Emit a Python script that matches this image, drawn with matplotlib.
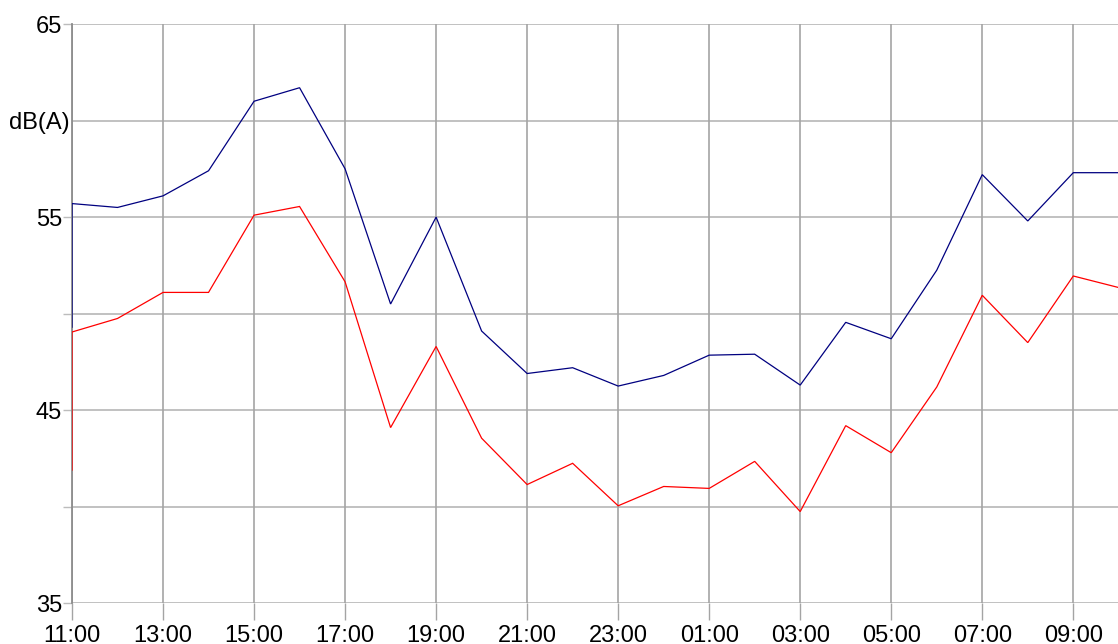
import matplotlib
matplotlib.use("Agg")
import matplotlib.pyplot as plt
from matplotlib.transforms import blended_transform_factory, offset_copy

plt.rcParams['font.family'] = ['Liberation Sans', 'DejaVu Sans']

# Hours since midnight of the first day (11:00 on day 1 to 10:00 on day 2).
# The first reading appears twice at 11:00 (partial hour, then full hour).
hours = [11, 11, 12, 13, 14, 15, 16, 17, 18, 19, 20, 21, 22, 23,
         24, 25, 26, 27, 28, 29, 30, 31, 32, 33, 34]

# Upper curve (navy) and lower curve (red), dB(A)
level_upper = [49.3, 55.7, 55.5, 56.1, 57.4, 61.0, 61.7, 57.5, 50.5, 55.0,
               49.1, 46.9, 47.2, 46.25, 46.8, 47.85, 47.9, 46.3, 49.55, 48.7,
               52.25, 57.2, 54.8, 57.3, 57.3]
level_lower = [41.9, 49.05, 49.75, 51.1, 51.1, 55.1, 55.55, 51.65, 44.1, 48.3,
               43.55, 41.15, 42.25, 40.05, 41.05, 40.95, 42.35, 39.75, 44.2, 42.8,
               46.2, 50.95, 48.5, 51.95, 51.35]

x_ticks = [11, 13, 15, 17, 19, 21, 23, 25, 27, 29, 31, 33]
x_tick_labels = ['11:00', '13:00', '15:00', '17:00', '19:00', '21:00',
                 '23:00', '01:00', '03:00', '05:00', '07:00', '09:00']
y_ticks = [35, 40, 45, 50, 55, 65]
y_tick_labels = ['35', '', '45', '', '55', '65']
unit_level = 60
unit_label = 'dB(A)'

W, H = 1118, 644
fig = plt.figure(figsize=(W / 100, H / 100), dpi=100)
left_px, right_px = 72, 1118.8
top_px, bottom_px = 24, 603.3
ax = fig.add_axes([left_px / W, (H - bottom_px) / H,
                   (right_px - left_px) / W, (bottom_px - top_px) / H])

ax.set_xlim(11, 34)
ax.set_ylim(35, 65)

hgrid = '#bcbcbc'
vgrid = '#a4a4a4'

for y in y_ticks + [unit_level]:
    ax.axhline(y, color=hgrid, lw=1.3, zorder=1)
for x in x_ticks:
    ax.axvline(x, color=vgrid, lw=1.2, zorder=1)

ax.plot(hours, level_upper, color='#000080', lw=0.9, zorder=3,
        solid_joinstyle='miter')
ax.plot(hours, level_lower, color='#ff0000', lw=0.9, zorder=3,
        solid_joinstyle='miter')

ax.set_xticks(x_ticks)
ax.set_xticklabels(x_tick_labels)
ax.set_yticks(y_ticks)
ax.set_yticklabels(y_tick_labels)

ax.tick_params(axis='y', length=6.5, width=1.0, color=hgrid, pad=0.8,
               labelsize=17, labelcolor='black')
ax.tick_params(axis='x', length=12.5, width=1.0, color=vgrid, pad=3.0,
               labelsize=17, labelcolor='black')

# Unit label sits on the 60 dB gridline, just left of the axis
trans = offset_copy(blended_transform_factory(ax.transAxes, ax.transData),
                    fig=fig, x=-1.5, y=0, units='points')
ax.text(0, unit_level, unit_label, transform=trans, ha='right',
        va='center_baseline', fontsize=17, color='black')

for side in ['top', 'right', 'bottom']:
    ax.spines[side].set_visible(False)
ax.spines['left'].set_color('#8c8c8c')
ax.spines['left'].set_linewidth(1.3)
ax.spines['left'].set_zorder(2)

fig.savefig('out.png', dpi=100)
